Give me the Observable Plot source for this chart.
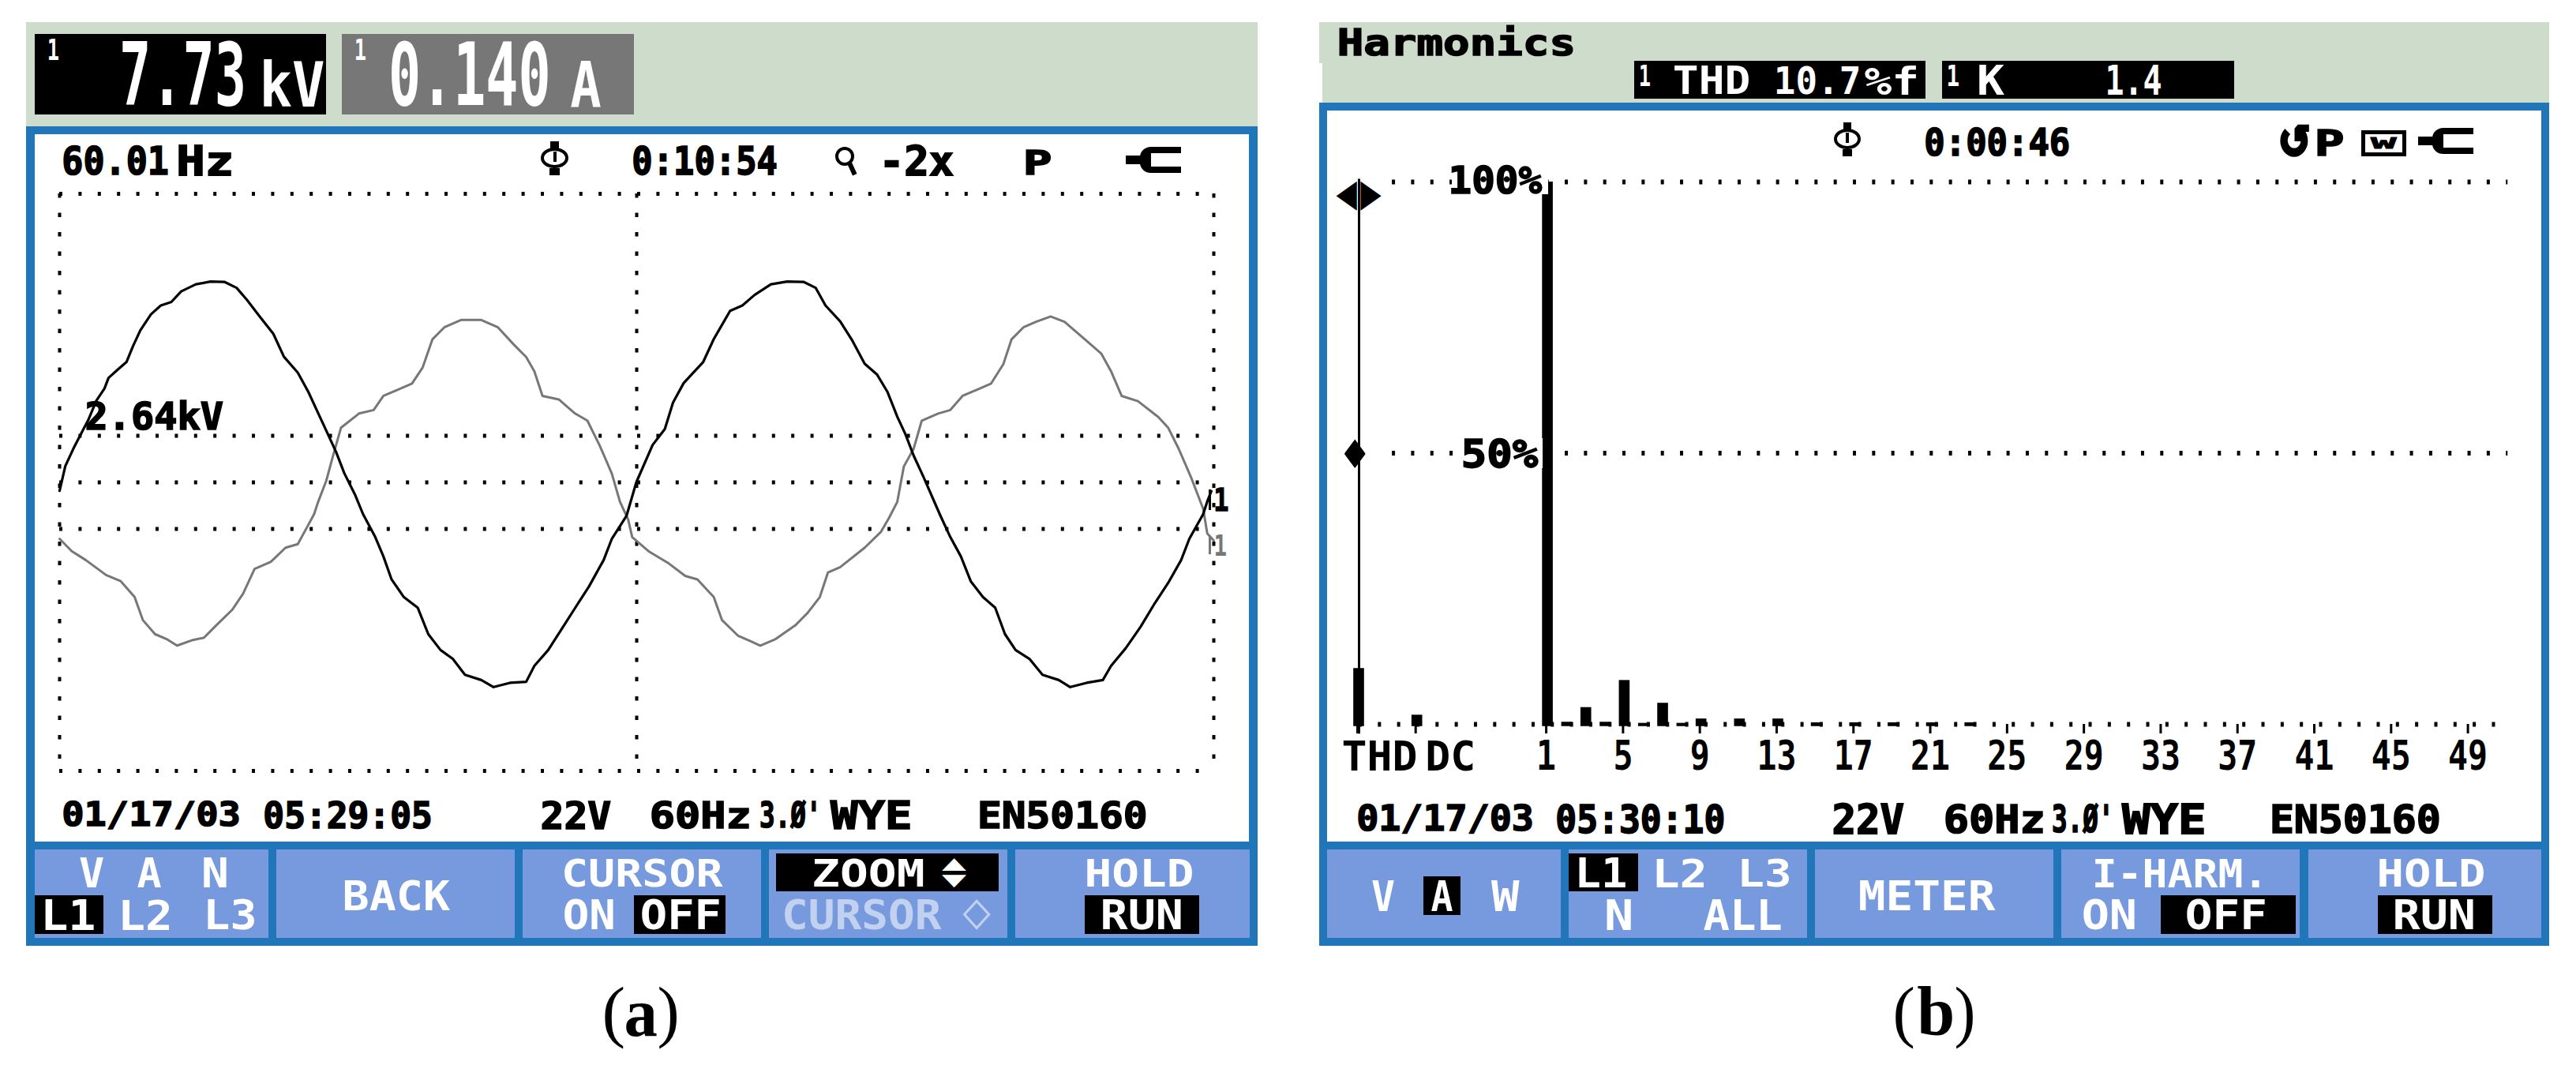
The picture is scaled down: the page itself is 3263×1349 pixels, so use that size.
<!DOCTYPE html>
<html>
<head>
<meta charset="utf-8">
<script src="https://cdn.jsdelivr.net/npm/d3@7"></script>
<script src="https://cdn.jsdelivr.net/npm/@observablehq/plot@0.6"></script>
<style>
html,body{margin:0;padding:0;background:#fff}
#stage{position:relative;width:3263px;height:1349px;overflow:hidden;background:#fff}
#stage div,#stage span{position:absolute;left:0;top:0}
</style>
</head>
<body>
<div id="stage"></div>
<script>
// ---- panel (a): waveform, 1 tick = 1/1415 of the sweep (two mains cycles)
const voltageTicks = [0,7,17,27,35,45,55,60,72,82,90,99,112,124,137,149,167,185,202,217,230,245,262,275,292,305,317,329,339,349,362,372,387,397,407,422,439,452,467,482,497,517,532,552,572,582,599,617,635,649,667,677,695,707,727,742,752,765,775,789,802,812,822,837,852,872,892,912,927,939,957,972,987,1002,1015,1027,1037,1047,1059,1079,1092,1105,1117,1132,1147,1159,1172,1189,1205,1225,1239,1259,1279,1289,1307,1325,1342,1359,1375,1385,1402,1407,1412];
const voltageKV = [-0.48,0.92,1.92,2.82,3.52,4.62,5.32,5.92,6.42,6.82,7.72,8.62,9.52,10.02,10.22,10.82,11.22,11.38,11.36,11.02,10.32,9.42,8.42,7.12,6.22,5.12,3.92,2.72,1.72,0.52,-0.68,-1.8,-3.1,-4.2,-5.5,-6.5,-7.1,-8.6,-9.5,-10,-10.9,-11.2,-11.6,-11.36,-11.3,-10.4,-9.5,-8.2,-6.9,-5.9,-4.4,-3.2,-1.9,0,2.12,3.02,4.52,5.62,6.12,6.82,8.12,8.92,9.72,10.02,10.62,11.22,11.38,11.36,11.02,10.02,9.12,8.02,6.72,6.12,5.12,3.72,2.72,1.52,0.32,-1.8,-3.1,-4.2,-5.6,-6.5,-7.1,-8.6,-9.5,-10,-10.9,-11.2,-11.6,-11.36,-11.2,-10.4,-9.4,-8.2,-6.9,-5.7,-4.4,-3.2,-1.8,-1.08,-0.5];
const currentTicks = [0,15,32,57,75,92,102,117,132,144,162,177,192,212,225,239,259,277,292,305,312,317,327,334,345,367,385,397,417,432,445,457,472,492,517,537,557,572,582,592,612,632,647,662,677,687,697,702,722,747,767,782,802,812,832,847,859,877,902,917,932,942,957,987,1007,1017,1027,1035,1047,1057,1077,1092,1107,1127,1142,1157,1167,1182,1197,1215,1232,1257,1277,1289,1302,1322,1347,1359,1372,1387,1402,1407,1415];
const currentA = [-0.064,-0.078,-0.088,-0.105,-0.112,-0.13,-0.156,-0.172,-0.178,-0.185,-0.179,-0.176,-0.162,-0.144,-0.126,-0.098,-0.09,-0.074,-0.07,-0.048,-0.036,-0.022,0.002,0.026,0.062,0.078,0.082,0.098,0.106,0.112,0.13,0.162,0.176,0.184,0.184,0.176,0.156,0.142,0.126,0.098,0.094,0.078,0.07,0.042,0.01,-0.022,-0.042,-0.062,-0.078,-0.092,-0.106,-0.11,-0.13,-0.156,-0.174,-0.18,-0.185,-0.178,-0.162,-0.148,-0.13,-0.102,-0.096,-0.074,-0.056,-0.04,-0.022,0.018,0.038,0.07,0.078,0.082,0.098,0.106,0.112,0.134,0.162,0.176,0.182,0.188,0.182,0.162,0.146,0.126,0.098,0.092,0.074,0.062,0.038,0.006,-0.03,-0.058,-0.066];
const kvPerAmpOnScreen = 50;
const cursorKV = [-2.64, 0, 2.64];

// ---- panel (b): harmonic spectrum (THD and DC sit left of the first harmonic)
const barOrders   = [-8.83,-5.8,1,2,3,4,5,6,7,8,9,11,13,15,17,19,21,23];
const barPercents = [10.3,1.7,100,0.4,3.1,0.4,8.1,0.2,3.9,0.2,1.0,1.0,1.0,0.3,0.3,0.3,0.3,0.3];
const axisOrders  = [-8.83,-5.8,1,5,9,13,17,21,25,29,33,37,41,45,49];
const namedOrders = [-8.83,-5.8];
const gridPercents = [100,50];

const MONO = '"DejaVu Sans Mono"', SERIF = '"Liberation Serif"';
const GREEN="#cddccb", BLUE="#2176ba", KEY="#7799dd", GREY="#777777";
const stage = document.getElementById("stage");
const ctx = document.createElement("canvas").getContext("2d");

function box(x,y,w,h,color,extra){
  const d=document.createElement("div");
  d.style.cssText=`left:${x}px;top:${y}px;width:${w}px;height:${h}px;background:${color};`+(extra||"");
  stage.appendChild(d); return d;
}
// place a text so that its ink fills the box x0..x1, y0..y1
function fit(t,x0,x1,y0,y1,color="#000",o={}){
  const family=o.family||MONO, weight=o.weight||"bold";
  const font=`${weight} 100px ${family}`;
  ctx.font=font;
  const m=ctx.measureText(t);
  const inkW=m.actualBoundingBoxLeft+m.actualBoundingBoxRight;
  const inkH=m.actualBoundingBoxAscent+m.actualBoundingBoxDescent;
  const sx=(x1-x0)/inkW, sy=(y1-y0)/inkH;
  const base=(100-(m.fontBoundingBoxAscent+m.fontBoundingBoxDescent))/2+m.fontBoundingBoxAscent;
  const tx=x0+sx*m.actualBoundingBoxLeft, ty=y0-sy*(base-m.actualBoundingBoxAscent);
  const s=document.createElement("span");
  s.textContent=t;
  const heavy=(family===MONO&&color==="#000")?"-webkit-text-stroke:3.5px #000;":"";
  s.style.cssText=`font:${font};line-height:100px;white-space:pre;color:${color};transform-origin:0 0;transform:translate(${tx}px,${ty}px) scale(${sx},${sy});`+heavy+(o.opacity?`opacity:${o.opacity};`:"");
  stage.appendChild(s);
}
function clock(x,y,w,h){
  box(x+w*0.35,y,w*0.3,h*0.2,"#000");
  box(x,y+h*0.18,w,h*0.62,"transparent",`box-sizing:border-box;border:4px solid #000;border-radius:50%;`);
  box(x+w*0.45,y+h*0.3,w*0.12,h*0.3,"#000");
  box(x+w*0.32,y+h*0.8,w*0.36,h*0.2,"#000");
}
function plug(x,y,w,h){
  box(x,y+h*0.37,w*0.3,h*0.26,"#000");
  box(x+w*0.25,y+h*0.08,w*0.5,h*0.84,"#000","border-radius:40% 0 0 40%;");
  box(x+w*0.45,y+h*0.28,w*0.3,h*0.44,"#fff");
  box(x+w*0.7,y+h*0.08,w*0.3,h*0.2,"#000");
  box(x+w*0.7,y+h*0.72,w*0.3,h*0.2,"#000");
}

// ---------- frames
box(33,28,1560,132,GREEN);
box(33,160,1560,1038,BLUE);
box(44,170,1538,896,"#fff");
[[44,340],[350,652],[662,964],[974,1276],[1286,1583]].forEach(b=>box(b[0],1076,b[1]-b[0],112,KEY));
box(1671,28,1558,102,GREEN);
box(1671,80,4,50,"#fff");
box(1671,130,1558,1068,BLUE);
box(1681,140,1538,926,"#fff");
[[1681,1977],[1987,2289],[2299,2601],[2611,2913],[2924,3219]].forEach(b=>box(b[0],1076,b[1]-b[0],112,KEY));

// ---------- panel (a) plot
const wave = (xs,ys)=>xs.map((t,i)=>({t,v:ys[i]}));
const volts = wave(voltageTicks,voltageKV);
const amps  = wave(currentTicks,currentA.map(a=>a*kvPerAmpOnScreen));
const dots = {stroke:"#000",strokeWidth:5};
const plotA = Plot.plot({
  width:1538,height:896,marginLeft:31,marginRight:45,marginTop:75,marginBottom:90,
  x:{domain:[0,1415],axis:null},y:{domain:[-16.35,16.35],axis:null},
  style:{background:"transparent"},
  marks:[
    Plot.ruleY([-16.35,16.35],{...dots,strokeDasharray:"4 20.4"}),
    Plot.ruleY(cursorKV,{...dots,strokeDasharray:"4 20.4"}),
    Plot.ruleX([0,707.5,1415],{...dots,strokeDasharray:"5.5 19",strokeWidth:4}),
    Plot.line(amps,{x:"t",y:"v",stroke:GREY,strokeWidth:3}),
    Plot.line(volts,{x:"t",y:"v",stroke:"#000",strokeWidth:3.2})
  ]
});
plotA.style.cssText+=";position:absolute;left:44px;top:170px;max-width:none;";
stage.appendChild(plotA);

// ---------- panel (b) plot
const bars = barOrders.map((o,i)=>({o,p:barPercents[i]}));
const labelFont = {fontSize:52,fontWeight:"bold",fontFamily:MONO,fill:"#000"};
const plotB = Plot.plot({
  width:1538,height:926,marginLeft:40,marginRight:91.4,marginTop:90,marginBottom:149,
  x:{domain:[namedOrders[0],49]},y:{domain:[0,100],axis:null},
  style:{background:"transparent"},
  marks:[
    Plot.ruleY(gridPercents,{x1:-7.1,x2:51,stroke:"#000",strokeWidth:6,strokeDasharray:"4 20.33"}),
    Plot.ruleY([0],{x1:namedOrders[0],x2:51,stroke:"#000",strokeWidth:6,strokeDasharray:"4 20.33"}),
    Plot.ruleX([namedOrders[0]],{y1:-1.8,y2:100.5,stroke:"#000",strokeWidth:3}),
    Plot.rectY(bars,{x1:d=>d.o-0.28,x2:d=>d.o+0.28,y1:-0.4,y2:"p",fill:"#000"}),
    Plot.axisX({ticks:axisOrders,tickFormat:d=>namedOrders.includes(d)?"":d,label:null,tickSize:12,tickPadding:9,strokeWidth:3,dx:-2,...labelFont}),
    Plot.text(["THD"],{x:()=>namedOrders[0],y:()=>0,text:d=>d,dx:26,dy:42,...labelFont}),
    Plot.text(["DC"],{x:()=>namedOrders[1],y:()=>0,text:d=>d,dx:42,dy:42,...labelFont})
  ]
});
plotB.style.cssText+=";position:absolute;left:1681px;top:140px;max-width:none;";
plotB.querySelectorAll("text").forEach(t=>{
  const n=t.textContent.length;
  if(n){
    t.setAttribute("textLength",(/[A-Z]/.test(t.textContent)?32:25)*n);
    t.setAttribute("lengthAdjust","spacingAndGlyphs");
    t.style.webkitTextStroke="1.5px #000";
  }
});
stage.appendChild(plotB);

// ---------- panel (a) header & status
const W="#fff";
box(44,43,369,102,"#000"); box(433,43,370,102,GREY);
fit("1",62,74,49,76,W); fit("7.73",155,308,51,135,W); fit("kV",334,410,76,135,W);
fit("1",451,463,49,76,W); fit("0.140",496,694,51,135,W); fit("A",723,761,76,135,W);
fit("60.01",81,212,184,222); fit("Hz",227,292,184,222);
clock(685,179,35,43);
fit("0:10:54",803,983,184,222);
box(1058,186,24,24,"transparent","box-sizing:border-box;border:4px solid #000;border-radius:50%;");
box(1076,204,6,18,"#000","transform:rotate(-25deg);");
fit("-2x",1121,1207,184,222);
fit("P",1300,1330,190,222);
plug(1426,183,70,39);
fit("2.64kV",110,282,507,545);
fit("1",1540,1555,618,647); box(1531,620,3,26,"#000");
fit("1",1540,1553,677,704,GREY); box(1531,680,3,22,GREY);
// footer
[["01/17/03",81,302],["05:29:05",336,545],["22V",687,773],["60Hz",826,948],["3.Ø'",964,1033],["WYE",1052,1152],["EN50160",1242,1451]]
  .forEach(d=>fit(d[0],d[1],d[2],1014,1050));
// soft keys
const R1=[1087,1124],R2=[1139,1178],RM=[1115,1154];
fit("V",101,131,...R1,W);fit("A",174,204,...R1,W);fit("N",258,287,...R1,W);
box(44,1134,87,49,"#000");
fit("L1",57,119,...R2,W);fit("L2",155,214,...R2,W);fit("L3",263,322,...R2,W);
fit("BACK",437,570,...RM,W);
fit("CURSOR",715,916,...R1,W);fit("ON",715,777,...R2,W);
box(803,1134,116,49,"#000");fit("OFF",813,911,...R2,W);
box(983,1081,282,48,"#000");fit("ZOOM",1031,1169,...R1,W);
fit("▲",1193,1224,1087,1103,W);fit("▼",1193,1224,1108,1124,W);
fit("CURSOR",994,1193,...R2,W,{opacity:.55});fit("◊",1219,1255,...R2,W,{opacity:.55});
fit("HOLD",1377,1510,...R1,W);
box(1374,1134,145,49,"#000");fit("RUN",1397,1496,...R2,W);
// caption
const S={family:SERIF,weight:"normal"},SB={family:SERIF};
fit("(",766,790,1250,1329,"#000",S);fit("a",793,832,1270,1313,"#000",SB);fit(")",835,857,1250,1329,"#000",S);

// ---------- panel (b) header & status
fit("Harmonics",1697,1992,33,71);
box(2070,77,369,48,"#000");box(2460,77,370,48,"#000");
fit("1",2078,2090,82,109,W);fit("THD",2121,2215,83,120,W);fit("10.7",2251,2354,83,120,W);fit("%f",2362,2427,83,120,W);
fit("1",2468,2481,82,109,W);fit("K",2507,2539,83,120,W);fit("1.4",2670,2737,83,120,W);
clock(2323,155,34,43);
fit("0:00:46",2440,2620,161,198);
fit("↺",2889,2924,159,198);
fit("P",2936,2967,165,198);
box(2991,165,57,33,"transparent","box-sizing:border-box;border:5px solid #000;");fit("w",3003,3036,174,188);
plug(3063,159,70,39);
box(1839,209,122,37,"#fff");fit("100%",1839,1953,209,246);
box(1854,555,100,38,"#fff");fit("50%",1854,1948,555,593);
fit("◀",1694,1718,232,266);fit("▶",1724,1748,232,266);
fit("♦",1704,1729,558,592);
[["01/17/03",1721,1940],["05:30:10",1973,2183],["22V",2323,2411],["60Hz",2465,2587],["3.Ø'",2601,2670],["WYE",2688,2791],["EN50160",2879,3089]]
  .forEach(d=>fit(d[0],d[1],d[2],1018,1056));
fit("V",1738,1766,...RM,W);box(1803,1110,47,49,"#000");fit("A",1813,1840,...RM,W);fit("W",1889,1925,...RM,W);
box(1987,1081,88,48,"#000");fit("L1",2000,2059,...R1,W);fit("L2",2098,2158,...R1,W);fit("L3",2206,2266,...R1,W);
fit("N",2035,2066,...R2,W);fit("ALL",2158,2256,...R2,W);
fit("METER",2356,2528,...RM,W);
fit("I-HARM.",2654,2862,...R1,W);fit("ON",2639,2704,...R2,W);
box(2737,1134,171,49,"#000");fit("OFF",2770,2869,...R2,W);
fit("HOLD",3014,3146,...R1,W);box(3012,1134,145,49,"#000");fit("RUN",3034,3133,...R2,W);
fit("(",2401,2424,1250,1329,"#000",S);fit("b",2429,2473,1250,1313,"#000",SB);fit(")",2478,2499,1250,1329,"#000",S);
</script>
</body>
</html>
